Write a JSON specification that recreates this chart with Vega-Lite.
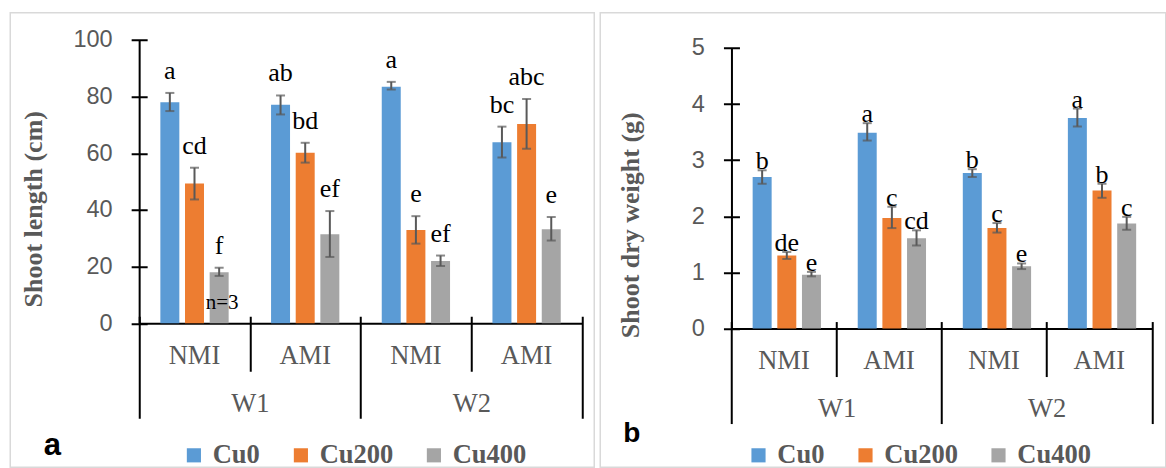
{
  "$schema": "https://vega.github.io/schema/vega-lite/v6.json",
  "background": "white",
  "padding": {"left": 9.25, "top": 11.75, "right": 0, "bottom": 0},
  "datasets": {
    "length": [
      {"grp": "W1 NMI", "cu": "Cu0", "value": 78.0, "lo": 74.9, "hi": 81.3, "sig": "a", "note": ""},
      {"grp": "W1 NMI", "cu": "Cu200", "value": 49.3, "lo": 43.7, "hi": 54.9, "sig": "cd", "note": ""},
      {"grp": "W1 NMI", "cu": "Cu400", "value": 18.0, "lo": 16.7, "hi": 19.6, "sig": "f", "note": "n=3"},
      {"grp": "W1 AMI", "cu": "Cu0", "value": 77.1, "lo": 73.7, "hi": 80.4, "sig": "ab", "note": ""},
      {"grp": "W1 AMI", "cu": "Cu200", "value": 60.2, "lo": 56.7, "hi": 63.7, "sig": "bd", "note": ""},
      {"grp": "W1 AMI", "cu": "Cu400", "value": 31.4, "lo": 23.4, "hi": 39.6, "sig": "ef", "note": ""},
      {"grp": "W2 NMI", "cu": "Cu0", "value": 83.5, "lo": 82.5, "hi": 85.2, "sig": "a", "note": ""},
      {"grp": "W2 NMI", "cu": "Cu200", "value": 32.9, "lo": 28.1, "hi": 37.8, "sig": "e", "note": ""},
      {"grp": "W2 NMI", "cu": "Cu400", "value": 22.0, "lo": 20.2, "hi": 23.9, "sig": "ef", "note": ""},
      {"grp": "W2 AMI", "cu": "Cu0", "value": 63.9, "lo": 58.5, "hi": 69.4, "sig": "bc", "note": ""},
      {"grp": "W2 AMI", "cu": "Cu200", "value": 70.3, "lo": 61.6, "hi": 79.2, "sig": "abc", "note": ""},
      {"grp": "W2 AMI", "cu": "Cu400", "value": 33.2, "lo": 29.2, "hi": 37.5, "sig": "e", "note": ""}
    ],
    "weight": [
      {"grp": "W1 NMI", "cu": "Cu0", "value": 2.70, "lo": 2.58, "hi": 2.82, "sig": "b"},
      {"grp": "W1 NMI", "cu": "Cu200", "value": 1.30, "lo": 1.24, "hi": 1.365, "sig": "de"},
      {"grp": "W1 NMI", "cu": "Cu400", "value": 0.96, "lo": 0.93, "hi": 1.01, "sig": "e"},
      {"grp": "W1 AMI", "cu": "Cu0", "value": 3.49, "lo": 3.35, "hi": 3.66, "sig": "a"},
      {"grp": "W1 AMI", "cu": "Cu200", "value": 1.97, "lo": 1.79, "hi": 2.17, "sig": "c"},
      {"grp": "W1 AMI", "cu": "Cu400", "value": 1.61, "lo": 1.48, "hi": 1.75, "sig": "cd"},
      {"grp": "W2 NMI", "cu": "Cu0", "value": 2.77, "lo": 2.70, "hi": 2.84, "sig": "b"},
      {"grp": "W2 NMI", "cu": "Cu200", "value": 1.79, "lo": 1.71, "hi": 1.88, "sig": "c"},
      {"grp": "W2 NMI", "cu": "Cu400", "value": 1.11, "lo": 1.06, "hi": 1.16, "sig": "e"},
      {"grp": "W2 AMI", "cu": "Cu0", "value": 3.75, "lo": 3.60, "hi": 3.92, "sig": "a"},
      {"grp": "W2 AMI", "cu": "Cu200", "value": 2.46, "lo": 2.33, "hi": 2.58, "sig": "b"},
      {"grp": "W2 AMI", "cu": "Cu400", "value": 1.87, "lo": 1.76, "hi": 1.99, "sig": "c"}
    ],
    "blank": [{}]
  },
  "hconcat": [
    {
      "width": 584,
      "height": 454.5,
      "view": {"stroke": "#D9D9D9", "strokeWidth": 1.5},
      "layer": [
        {
          "data": {"name": "length"},
          "encoding": {
            "x": {
              "field": "grp", "type": "nominal", "title": null,
              "scale": {"domain": ["W1 NMI", "W1 AMI", "W2 NMI", "W2 AMI"], "paddingInner": 0, "paddingOuter": 0, "range": [128.9, 571.7]},
              "axis": {"orient": "bottom", "offset": -144, "labelExpr": "split(datum.value, ' ')[1]", "ticks": false, "tickSize": 0, "domainColor": "black", "domainWidth": 2, "labelFont": "Liberation Serif", "labelFontSize": 26.5, "labelColor": "#595959", "labelPadding": 19, "labelAngle": 0, "grid": false}
            },
            "xOffset": {"field": "cu", "type": "nominal", "scale": {"domain": ["Cu0", "Cu200", "Cu400"], "paddingInner": 0.23, "paddingOuter": 0.86}},
            "y": {
              "field": "value", "type": "quantitative",
              "scale": {"domain": [0, 100], "nice": false, "range": [310.5, 27.2]},
              "axis": {"title": "Shoot length (cm)", "offset": -128.9, "values": [0, 20, 40, 60, 80, 100], "ticks": false, "tickSize": 0, "domainColor": "black", "domainWidth": 2, "labelFont": "Liberation Sans", "labelFontSize": 23.5, "labelColor": "#595959", "labelPadding": 27, "grid": false, "titleFont": "Liberation Serif", "titleFontSize": 26, "titleFontWeight": "bold", "titleColor": "#595959", "titleX": -98, "titleY": 196, "titleBaseline": "alphabetic", "titleAlign": "center", "titleAngle": 270}
            }
          },
          "layer": [
            {
              "mark": {"type": "bar"},
              "encoding": {
                "color": {
                  "field": "cu", "type": "nominal",
                  "scale": {"domain": ["Cu0", "Cu200", "Cu400"], "range": ["#5B9BD5", "#ED7D31", "#A5A5A5"]},
                  "legend": {"orient": "none", "legendX": 33.4, "legendY": 429.2, "direction": "horizontal", "title": "a", "titleOrient": "left", "titleFont": "Liberation Sans", "titleFontSize": 31, "titleFontWeight": "bold", "titleColor": "black", "titleAnchor": "middle", "titleBaseline": "alphabetic", "titlePadding": 119, "symbolType": "square", "symbolSize": 200, "symbolStrokeWidth": 0, "symbolOpacity": 1, "labelFont": "Liberation Serif", "labelFontSize": 26.5, "labelFontWeight": "bold", "labelColor": "#595959", "labelOffset": 5.5, "columnPadding": 27, "padding": 0, "labelLimit": 300}
                }
              }
            },
            {
              "mark": {"type": "rule", "color": "#595959", "strokeWidth": 2},
              "encoding": {"y": {"field": "lo", "type": "quantitative"}, "y2": {"field": "hi"}}
            },
            {
              "mark": {"type": "tick", "color": "#595959", "thickness": 2, "size": 9},
              "encoding": {"y": {"field": "lo", "type": "quantitative"}}
            },
            {
              "mark": {"type": "tick", "color": "#595959", "thickness": 2, "size": 9},
              "encoding": {"y": {"field": "hi", "type": "quantitative"}}
            },
            {
              "mark": {"type": "text", "font": "Liberation Serif", "fontSize": 26, "color": "black", "baseline": "middle", "dy": -22},
              "encoding": {"y": {"field": "hi", "type": "quantitative"}, "text": {"field": "sig"}}
            },
            {
              "mark": {"type": "text", "font": "Liberation Serif", "fontSize": 21, "color": "black", "baseline": "middle", "dy": -20, "dx": 3},
              "encoding": {"y": {"datum": 0, "type": "quantitative"}, "text": {"field": "note"}}
            }
          ]
        },
        {
          "data": {"name": "blank"},
          "mark": {"type": "point", "opacity": 0, "size": 1},
          "encoding": {
            "x": {"datum": 0, "type": "quantitative", "scale": {"domain": [0, 4], "nice": false, "zero": false, "range": [128.9, 571.7]},
              "axis": {"orient": "bottom", "values": [0, 2, 4], "offset": -151, "tickSize": 102, "tickWidth": 2, "tickColor": "black", "domain": false, "labels": false, "grid": false, "title": null}},
            "y": {"datum": 0, "type": "quantitative",
              "axis": {"orient": "left", "values": [0, 20, 40, 60, 80, 100], "offset": -136.9, "tickSize": 16, "tickWidth": 2, "tickColor": "black", "domain": false, "labels": false, "grid": false, "title": null}}
          }
        },
        {
          "data": {"name": "blank"},
          "mark": {"type": "point", "opacity": 0, "size": 1},
          "encoding": {
            "x": {"datum": 1, "type": "quantitative", "scale": {"domain": [0, 4], "nice": false, "zero": false, "range": [128.9, 571.7]},
              "axis": {"orient": "bottom", "values": [1, 3], "offset": -151, "tickSize": 55, "tickWidth": 2, "tickColor": "black", "domain": false, "labelExpr": "datum.value == 1 ? 'W1' : 'W2'", "labelFont": "Liberation Serif", "labelFontSize": 26.5, "labelColor": "#595959", "labelPadding": 19, "labelFlush": false, "labelOverlap": false, "grid": false, "title": null}}
          }
        }
      ],
      "resolve": {"scale": {"x": "independent"}, "axis": {"x": "independent", "y": "independent"}}
    },
    {
      "width": 565.5,
      "height": 454.5,
      "view": {"stroke": "#D9D9D9", "strokeWidth": 1.5},
      "layer": [
        {
          "data": {"name": "weight"},
          "encoding": {
            "x": {
              "field": "grp", "type": "nominal", "title": null,
              "scale": {"domain": ["W1 NMI", "W1 AMI", "W2 NMI", "W2 AMI"], "paddingInner": 0, "paddingOuter": 0, "range": [131.2, 551.5]},
              "axis": {"orient": "bottom", "offset": -138.7, "labelExpr": "split(datum.value, ' ')[1]", "ticks": false, "tickSize": 0, "domainColor": "black", "domainWidth": 2, "labelFont": "Liberation Serif", "labelFontSize": 26.5, "labelColor": "#595959", "labelPadding": 19, "labelAngle": 0, "grid": false}
            },
            "xOffset": {"field": "cu", "type": "nominal", "scale": {"domain": ["Cu0", "Cu200", "Cu400"], "paddingInner": 0.23, "paddingOuter": 0.86}},
            "y": {
              "field": "value", "type": "quantitative",
              "scale": {"domain": [0, 5], "nice": false, "range": [315.8, 35.2]},
              "axis": {"title": "Shoot dry weight (g)", "offset": -131.2, "values": [0, 1, 2, 3, 4, 5], "ticks": false, "tickSize": 0, "domainColor": "black", "domainWidth": 2, "labelFont": "Liberation Sans", "labelFontSize": 23.5, "labelColor": "#595959", "labelPadding": 27, "grid": false, "titleFont": "Liberation Serif", "titleFontSize": 26, "titleFontWeight": "bold", "titleColor": "#595959", "titleX": -93, "titleY": 212, "titleBaseline": "alphabetic", "titleAlign": "center", "titleAngle": 270}
            }
          },
          "layer": [
            {
              "mark": {"type": "bar"},
              "encoding": {
                "color": {
                  "field": "cu", "type": "nominal",
                  "scale": {"domain": ["Cu0", "Cu200", "Cu400"], "range": ["#5B9BD5", "#ED7D31", "#A5A5A5"]},
                  "legend": {"orient": "none", "legendX": 23, "legendY": 429.2, "direction": "horizontal", "title": "b", "titleOrient": "left", "titleFont": "Liberation Sans", "titleFontSize": 28, "titleFontWeight": "bold", "titleColor": "black", "titleAnchor": "start", "titleBaseline": "alphabetic", "titlePadding": 104, "symbolType": "square", "symbolSize": 200, "symbolStrokeWidth": 0, "symbolOpacity": 1, "labelFont": "Liberation Serif", "labelFontSize": 26.5, "labelFontWeight": "bold", "labelColor": "#595959", "labelOffset": 5.5, "columnPadding": 27, "padding": 0, "labelLimit": 300}
                }
              }
            },
            {
              "mark": {"type": "rule", "color": "#595959", "strokeWidth": 2},
              "encoding": {"y": {"field": "lo", "type": "quantitative"}, "y2": {"field": "hi"}}
            },
            {
              "mark": {"type": "tick", "color": "#595959", "thickness": 2, "size": 9},
              "encoding": {"y": {"field": "lo", "type": "quantitative"}}
            },
            {
              "mark": {"type": "tick", "color": "#595959", "thickness": 2, "size": 9},
              "encoding": {"y": {"field": "hi", "type": "quantitative"}}
            },
            {
              "mark": {"type": "text", "font": "Liberation Serif", "fontSize": 26, "color": "black", "baseline": "middle", "dy": -9},
              "encoding": {"y": {"field": "hi", "type": "quantitative"}, "text": {"field": "sig"}}
            }
          ]
        },
        {
          "data": {"name": "blank"},
          "mark": {"type": "point", "opacity": 0, "size": 1},
          "encoding": {
            "x": {"datum": 0, "type": "quantitative", "scale": {"domain": [0, 4], "nice": false, "zero": false, "range": [131.2, 551.5]},
              "axis": {"orient": "bottom", "values": [0, 2, 4], "offset": -145.7, "tickSize": 102, "tickWidth": 2, "tickColor": "black", "domain": false, "labels": false, "grid": false, "title": null}},
            "y": {"datum": 0, "type": "quantitative",
              "axis": {"orient": "left", "values": [0, 1, 2, 3, 4, 5], "offset": -139.2, "tickSize": 16, "tickWidth": 2, "tickColor": "black", "domain": false, "labels": false, "grid": false, "title": null}}
          }
        },
        {
          "data": {"name": "blank"},
          "mark": {"type": "point", "opacity": 0, "size": 1},
          "encoding": {
            "x": {"datum": 1, "type": "quantitative", "scale": {"domain": [0, 4], "nice": false, "zero": false, "range": [131.2, 551.5]},
              "axis": {"orient": "bottom", "values": [1, 3], "offset": -145.7, "tickSize": 55, "tickWidth": 2, "tickColor": "black", "domain": false, "labelExpr": "datum.value == 1 ? 'W1' : 'W2'", "labelFont": "Liberation Serif", "labelFontSize": 26.5, "labelColor": "#595959", "labelPadding": 19, "labelFlush": false, "labelOverlap": false, "grid": false, "title": null}}
          }
        }
      ],
      "resolve": {"scale": {"x": "independent"}, "axis": {"x": "independent", "y": "independent"}}
    }
  ],
  "spacing": 4,
  "resolve": {"scale": {"color": "independent", "y": "independent", "x": "independent"}, "legend": {"color": "independent"}},
  "config": {"view": {"stroke": null}, "axis": {"grid": false}}
}
